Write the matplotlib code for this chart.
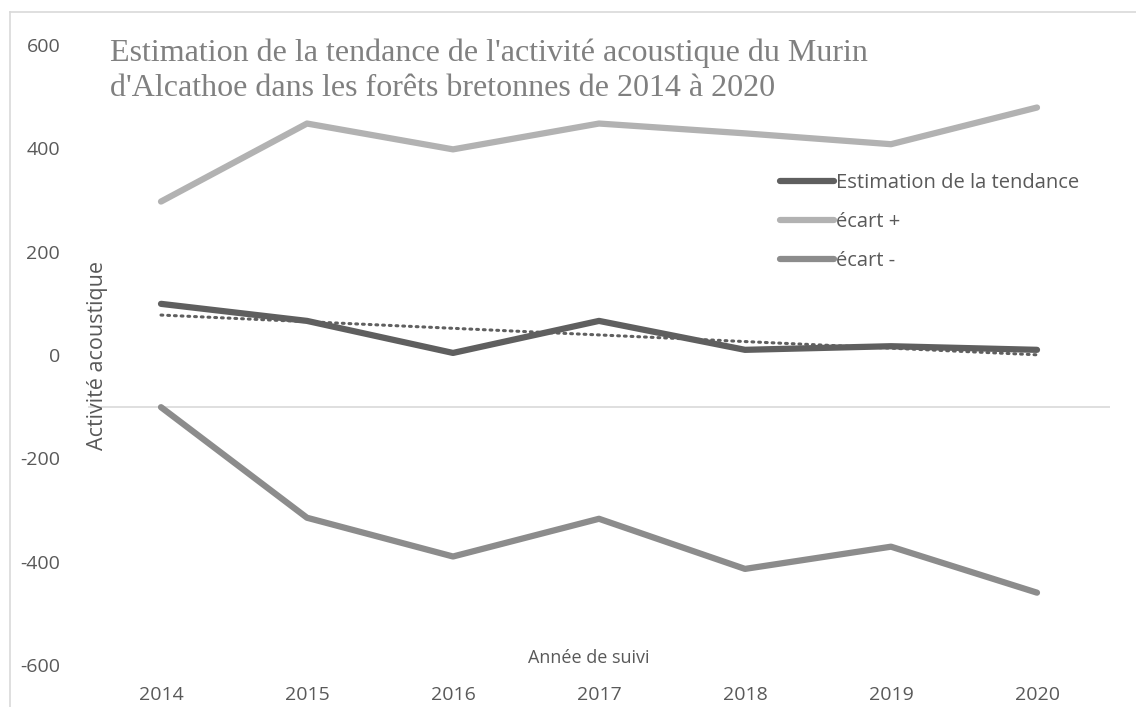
import numpy as np
import matplotlib
matplotlib.use("Agg")
import matplotlib.pyplot as plt
from matplotlib.lines import Line2D

# Données
annees = ["2014", "2015", "2016", "2017", "2018", "2019", "2020"]
estimation = [99, 66, 4, 66, 10, 17, 10]
ecart_plus = [297, 448, 398, 448, 429, 408, 479]
ecart_moins = [-101, -315, -390, -317, -414, -371, -460]
yticks = [-600, -400, -200, 0, 200, 400, 600]

gris_fonce = "#5f5f5f"
gris_clair = "#b2b2b2"
gris_moyen = "#8c8c8c"
texte = "#595959"

plt.rcParams["font.family"] = ["Open Sans", "DejaVu Sans"]
plt.rcParams["axes.unicode_minus"] = False

fig = plt.figure(figsize=(11.36, 7.07), dpi=100)
ax = fig.add_axes([88 / 1136, 42 / 707, 1022 / 1136, 620 / 707])

x = np.arange(len(annees))
ax.axhline(-100, color="#d9d9d9", lw=1.2, zorder=1)

ax.plot(x, estimation, color=gris_fonce, lw=4.5, solid_capstyle="round", zorder=3)
ax.plot(x, ecart_plus, color=gris_clair, lw=4.5, solid_capstyle="round", zorder=3)
ax.plot(x, ecart_moins, color=gris_moyen, lw=4.5, solid_capstyle="round", zorder=3)

# courbe de tendance linéaire (comme dans Excel)
a, b = np.polyfit(x, estimation, 1)
ax.plot(x, a * x + b, color=gris_fonce, lw=2.2, linestyle=(0, (0.6, 1.6)),
        dash_capstyle="round", zorder=4)

ax.set_xlim(-0.5, len(annees) - 0.5)
ax.set_ylim(-600, 600)
ax.set_xticks(x)
ax.set_xticklabels(annees)
ax.set_yticks(yticks)
ax.tick_params(length=0, labelsize=14, colors=texte)
ax.tick_params(axis="y", pad=20)
ax.tick_params(axis="x", pad=15)
for s in ax.spines.values():
    s.set_visible(False)

fig.text(97 / 1136, 1 - 355 / 707, "Activité acoustique", rotation=90,
         ha="center", va="center", fontsize=15.5, color=texte)
fig.text(589 / 1136, 1 - 658 / 707, "Année de suivi", ha="center", va="center",
         fontsize=13, color=texte)

fig.text(110 / 1136, 1 - 71 / 707,
         "Estimation de la tendance de l'activité acoustique du Murin\n"
         "d'Alcathoe dans les forêts bretonnes de 2014 à 2020",
         ha="left", va="center", fontsize=23, color="#808080",
         family=["Liberation Serif", "DejaVu Serif"], linespacing=1.25)

handles = [Line2D([], [], color=gris_fonce, lw=4.5, solid_capstyle="round"),
           Line2D([], [], color=gris_clair, lw=4.5, solid_capstyle="round"),
           Line2D([], [], color=gris_moyen, lw=4.5, solid_capstyle="round")]
leg = fig.legend(handles, ["Estimation de la tendance", "écart +", "écart -"],
                 loc="upper left", bbox_to_anchor=(770 / 1136, 1 - 163 / 707),
                 frameon=False, fontsize=14.5, handlelength=2.7, handletextpad=0.1,
                 labelspacing=0.95, borderpad=0)
for t in leg.get_texts():
    t.set_color(texte)

# cadre du graphique (haut et gauche)
fig.add_artist(Line2D([10 / 1136, 10 / 1136], [0, 1 - 12 / 707],
                      color="#d9d9d9", lw=1.2, transform=fig.transFigure))
fig.add_artist(Line2D([10 / 1136, 1], [1 - 12 / 707, 1 - 12 / 707],
                      color="#d9d9d9", lw=1.2, transform=fig.transFigure))

fig.savefig("out.png", dpi=100, facecolor="white")
